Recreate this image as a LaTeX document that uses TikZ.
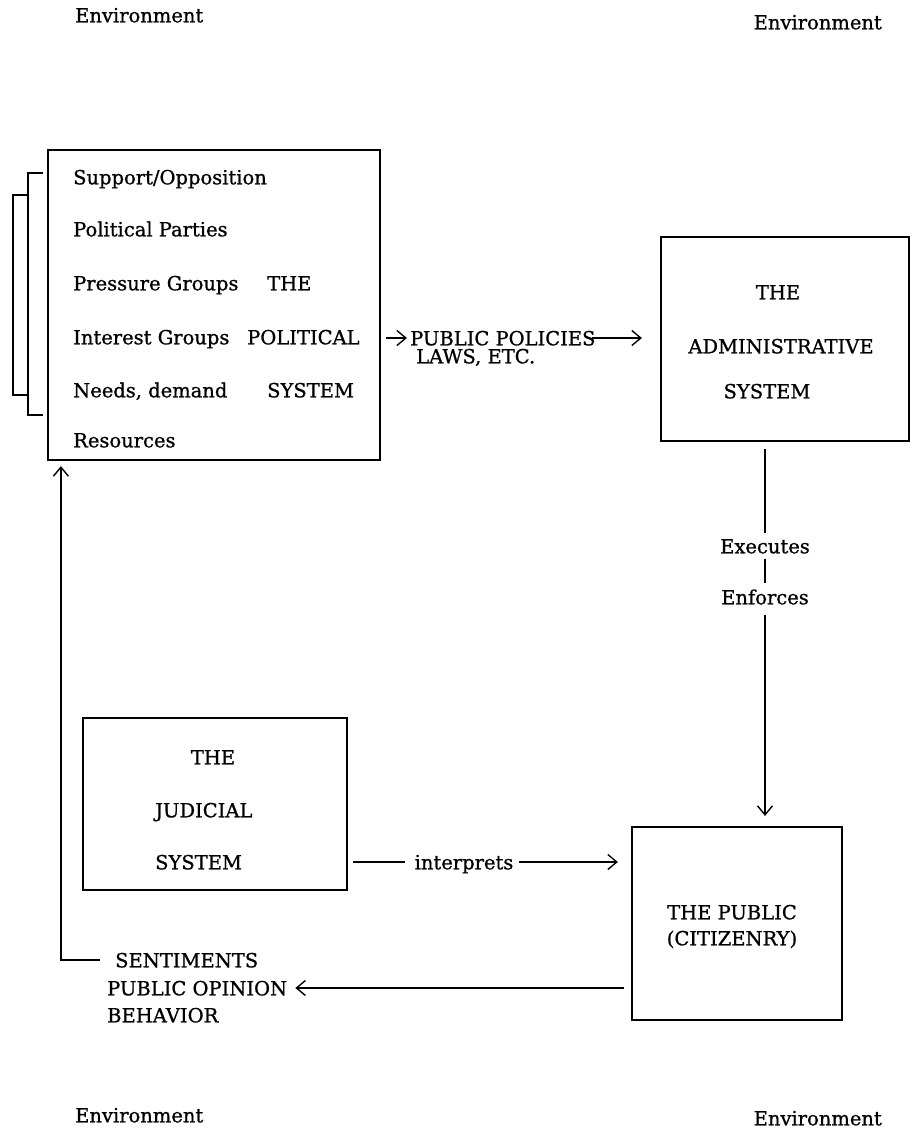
\documentclass[tikz,border=0pt]{standalone}
\usepackage{fontspec}
\setmainfont{DejaVu Serif}[FakeBold=0.9]
\usetikzlibrary{arrows.meta}
\begin{document}
\begin{tikzpicture}[x=1pt,y=-1pt,
  box/.style={draw, line width=2.2pt, inner sep=0pt},
  txt/.style={inner sep=0pt, text height=14.6pt, text depth=0pt, font=\fontsize{19.5}{23}\selectfont},
  ln/.style={line width=1.4pt},
  conn/.style={line width=1.4pt, -{Straight Barb[length=9pt,width=15pt,line width=1.4pt]}},
  brk/.style={line width=1.9pt}
]
\useasboundingbox (0,0) rectangle (911,1133);

% environment labels
\node[txt, anchor=west] (env1) at (75,15) {Environment};
\node[txt, anchor=east] (env2) at (882,22) {Environment};
\node[txt, anchor=west] (env3) at (75,1115) {Environment};
\node[txt, anchor=east] (env4) at (882,1118) {Environment};

% political system
\node[box, minimum width=332pt, minimum height=310pt] (pol) at (214,305) {};
\node[txt, anchor=west] (p1) at (73,177) {Support/Opposition};
\node[txt, anchor=west] (p2) at (73,229) {Political Parties};
\node[txt, anchor=west] (p3) at (73,283) {Pressure Groups};
\node[txt, anchor=west] (p4) at (73,337) {Interest Groups};
\node[txt, anchor=west] (p5) at (73,390) {Needs, demand};
\node[txt, anchor=west] (p6) at (73,440) {Resources};
\node[txt, anchor=west] (q1) at (267,283) {THE};
\node[txt, anchor=west] (q2) at (247,337) {POLITICAL};
\node[txt, anchor=west] (q3) at (267,390) {SYSTEM};

% brackets
\draw[brk] (43,173) -- (28,173) -- (28,415) -- (43,415);
\draw[brk] (28,195) -- (13,195) -- (13,395) -- (28,395);

% public policies
\node[txt, anchor=west] (pp) at (410,338) {PUBLIC POLICIES};
\node[txt, anchor=west] (laws) at (416,356) {LAWS, ETC.};

% administrative system
\node[box, minimum width=248pt, minimum height=204pt] (adm) at (785,339) {};
\node[txt] (a1) at (778,292) {THE};
\node[txt] (a2) at (781,346) {ADMINISTRATIVE};
\node[txt] (a3) at (767,391) {SYSTEM};

\draw[conn, shorten <=5pt, shorten >=3pt] (pol.east |- pp.west) -- (pp.west);
\draw[conn, shorten <=-4pt, shorten >=18pt] (pp.east) -- (adm.west |- pp.east);

% executes / enforces
\node[txt] (ex) at (765,546) {Executes};
\node[txt] (en) at (765,597) {Enforces};

% public
\node[box, minimum width=210pt, minimum height=193pt] (pub) at (737,923.5) {};
\node[txt] (u1) at (732,912) {THE PUBLIC};
\node[txt] (u2) at (732,938) {(CITIZENRY)};

\draw[ln, shorten <=7pt, shorten >=6pt] (adm.south -| ex.north) -- (ex.north);
\draw[ln, shorten <=5pt, shorten >=7pt] (ex.south) -- (en.north);
\draw[conn, shorten <=10pt, shorten >=10pt] (en.south) -- (pub.north -| en.south);

% judicial
\node[box, minimum width=264pt, minimum height=172pt] (jud) at (215,804) {};
\node[txt] (j1) at (213,757) {THE};
\node[txt, anchor=west] (j2) at (155,810) {JUDICIAL};
\node[txt, anchor=west] (j3) at (155,862) {SYSTEM};

\node[txt] (int) at (464,862) {interprets};
\draw[ln, shorten <=5pt, shorten >=9pt] (jud.east |- int.west) -- (int.west);
\draw[conn, shorten <=5pt, shorten >=13pt] (int.east) -- (pub.west |- int.east);

% feedback
\node[txt, anchor=west] (s1) at (115,960) {SENTIMENTS};
\node[txt, anchor=west] (s2) at (107,988) {PUBLIC OPINION};
\node[txt, anchor=west] (s3) at (107,1015) {BEHAVIOR};

\draw[conn, shorten <=7pt, shorten >=8pt] (pub.west |- s2.east) -- (s2.east);
\draw[conn, shorten >=5pt] ([xshift=-15pt]s1.west) -| ([xshift=14pt]pol.south west);
\end{tikzpicture}
\end{document}
